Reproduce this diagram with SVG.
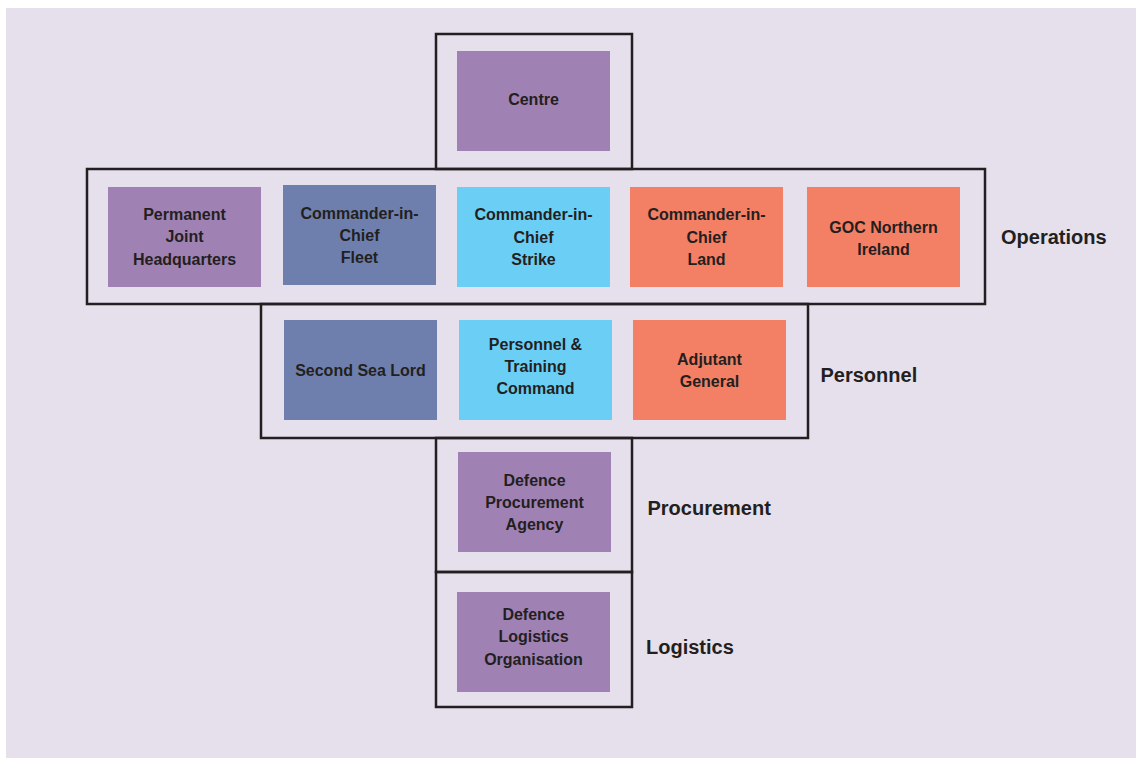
<svg xmlns="http://www.w3.org/2000/svg" width="1136" height="758" viewBox="0 0 1136 758">
<style>
.frame{fill:none;stroke:#231f20;stroke-width:2.5}
.n{stroke:none}
.purple{fill:#a081b3}
.navy{fill:#6e7fad}
.cyan{fill:#6bcff5}
.orange{fill:#f37f65}
.t{font-family:"Liberation Sans",Arial,sans-serif;font-weight:bold;font-size:16px;fill:#231f20;text-anchor:middle}
.lab{font-family:"Liberation Sans",Arial,sans-serif;font-weight:bold;font-size:20px;fill:#231f20}
</style>
<rect x="0" y="0" width="1136" height="758" fill="#ffffff"/>
<rect x="6" y="8" width="1130" height="750" fill="#e6dfec"/>

<g id="frames">
<rect id="frame-centre" class="frame" x="436" y="34" width="196" height="135"/>
<rect id="frame-operations" class="frame" x="87" y="169" width="898" height="135"/>
<rect id="frame-personnel" class="frame" x="261" y="304" width="547" height="134"/>
<rect id="frame-procurement" class="frame" x="436" y="438" width="196" height="134"/>
<rect id="frame-logistics" class="frame" x="436" y="572" width="196" height="135"/>
</g>

<g id="centre">
<rect class="n purple" x="457" y="51" width="153" height="100"/>
<text class="t" x="533.5" y="105">Centre</text>
</g>

<g id="pjhq">
<rect class="n purple" x="108" y="187" width="153" height="100"/>
<text class="t" x="184.5" y="219.5">Permanent</text>
<text class="t" x="184.5" y="242">Joint</text>
<text class="t" x="184.5" y="264.5">Headquarters</text>
</g>

<g id="cinc-fleet">
<rect class="n navy" x="283" y="185" width="153" height="100"/>
<text class="t" x="359.5" y="218.5">Commander-in-</text>
<text class="t" x="359.5" y="241">Chief</text>
<text class="t" x="359.5" y="263">Fleet</text>
</g>

<g id="cinc-strike">
<rect class="n cyan" x="457" y="187" width="153" height="100"/>
<text class="t" x="533.5" y="220">Commander-in-</text>
<text class="t" x="533.5" y="242.5">Chief</text>
<text class="t" x="533.5" y="265">Strike</text>
</g>

<g id="cinc-land">
<rect class="n orange" x="630" y="187" width="153" height="100"/>
<text class="t" x="706.5" y="220">Commander-in-</text>
<text class="t" x="706.5" y="242.5">Chief</text>
<text class="t" x="706.5" y="265">Land</text>
</g>

<g id="goc-ni">
<rect class="n orange" x="807" y="187" width="153" height="100"/>
<text class="t" x="883.5" y="232.5">GOC Northern</text>
<text class="t" x="883.5" y="255">Ireland</text>
</g>

<g id="second-sea-lord">
<rect class="n navy" x="284" y="320" width="153" height="100"/>
<text class="t" x="360.5" y="375.5">Second Sea Lord</text>
</g>

<g id="ptc">
<rect class="n cyan" x="459" y="320" width="153" height="100"/>
<text class="t" x="535.5" y="349.5">Personnel &amp;</text>
<text class="t" x="535.5" y="371.5">Training</text>
<text class="t" x="535.5" y="394">Command</text>
</g>

<g id="adjutant-general">
<rect class="n orange" x="633" y="320" width="153" height="100"/>
<text class="t" x="709.5" y="364.5">Adjutant</text>
<text class="t" x="709.5" y="387">General</text>
</g>

<g id="dpa">
<rect class="n purple" x="458" y="452" width="153" height="100"/>
<text class="t" x="534.5" y="485.5">Defence</text>
<text class="t" x="534.5" y="508">Procurement</text>
<text class="t" x="534.5" y="530">Agency</text>
</g>

<g id="dlo">
<rect class="n purple" x="457" y="592" width="153" height="100"/>
<text class="t" x="533.5" y="619.5">Defence</text>
<text class="t" x="533.5" y="642">Logistics</text>
<text class="t" x="533.5" y="664.5">Organisation</text>
</g>

<g id="labels">
<text class="lab" x="1001" y="243.5">Operations</text>
<text class="lab" x="820.5" y="381.5">Personnel</text>
<text class="lab" x="647.5" y="515">Procurement</text>
<text class="lab" x="646" y="654">Logistics</text>
</g>
</svg>
